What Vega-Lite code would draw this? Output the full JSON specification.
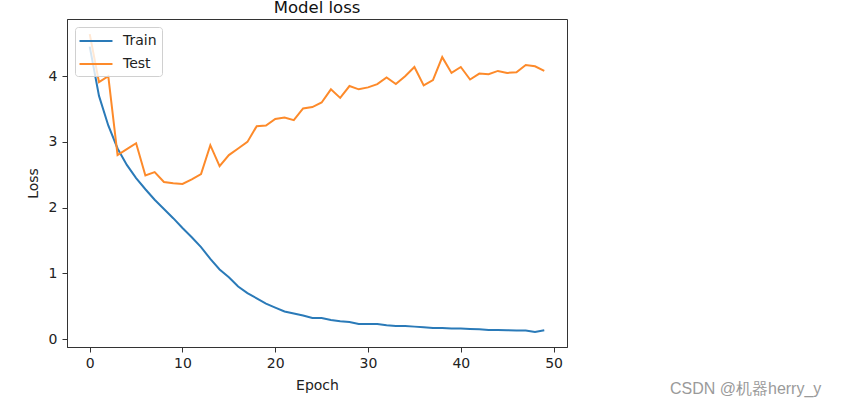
{
  "$schema": "https://vega.github.io/schema/vega-lite/v6.json",
  "width": 500,
  "height": 328,
  "autosize": {"type": "none"},
  "padding": {"left": 67, "top": 19, "right": 287, "bottom": 60},
  "background": "white",
  "title": {"text": "Model loss", "fontSize": 16.5, "font": "DejaVu Sans", "fontWeight": "normal", "color": "#111", "offset": -10, "baseline": "alphabetic", "anchor": "middle"},
  "config": {
    "view": {"stroke": "#333", "strokeWidth": 1},
    "axis": {"labelFont": "DejaVu Sans", "titleFont": "DejaVu Sans", "labelFontSize": 14, "titleFontSize": 14, "titleFontWeight": "normal", "labelColor": "#222", "titleColor": "#222", "domainColor": "#333", "tickColor": "#333", "tickSize": 5, "grid": false},
    "legend": {"labelFont": "DejaVu Sans", "labelFontSize": 14, "labelColor": "#222"}
  },
  "datasets": {
    "loss": [
      {"epoch": 0, "series": "Train", "loss": 4.45}, {"epoch": 1, "series": "Train", "loss": 3.7}, {"epoch": 2, "series": "Train", "loss": 3.25}, {"epoch": 3, "series": "Train", "loss": 2.9}, {"epoch": 4, "series": "Train", "loss": 2.65},
      {"epoch": 5, "series": "Train", "loss": 2.45}, {"epoch": 6, "series": "Train", "loss": 2.28}, {"epoch": 7, "series": "Train", "loss": 2.12}, {"epoch": 8, "series": "Train", "loss": 1.98}, {"epoch": 9, "series": "Train", "loss": 1.84},
      {"epoch": 10, "series": "Train", "loss": 1.69}, {"epoch": 11, "series": "Train", "loss": 1.55}, {"epoch": 12, "series": "Train", "loss": 1.4}, {"epoch": 13, "series": "Train", "loss": 1.22}, {"epoch": 14, "series": "Train", "loss": 1.06},
      {"epoch": 15, "series": "Train", "loss": 0.94}, {"epoch": 16, "series": "Train", "loss": 0.8}, {"epoch": 17, "series": "Train", "loss": 0.7}, {"epoch": 18, "series": "Train", "loss": 0.62}, {"epoch": 19, "series": "Train", "loss": 0.54},
      {"epoch": 20, "series": "Train", "loss": 0.48}, {"epoch": 21, "series": "Train", "loss": 0.42}, {"epoch": 22, "series": "Train", "loss": 0.39}, {"epoch": 23, "series": "Train", "loss": 0.36}, {"epoch": 24, "series": "Train", "loss": 0.32},
      {"epoch": 25, "series": "Train", "loss": 0.32}, {"epoch": 26, "series": "Train", "loss": 0.29}, {"epoch": 27, "series": "Train", "loss": 0.27}, {"epoch": 28, "series": "Train", "loss": 0.26}, {"epoch": 29, "series": "Train", "loss": 0.23},
      {"epoch": 30, "series": "Train", "loss": 0.23}, {"epoch": 31, "series": "Train", "loss": 0.23}, {"epoch": 32, "series": "Train", "loss": 0.21}, {"epoch": 33, "series": "Train", "loss": 0.2}, {"epoch": 34, "series": "Train", "loss": 0.2},
      {"epoch": 35, "series": "Train", "loss": 0.19}, {"epoch": 36, "series": "Train", "loss": 0.18}, {"epoch": 37, "series": "Train", "loss": 0.17}, {"epoch": 38, "series": "Train", "loss": 0.17}, {"epoch": 39, "series": "Train", "loss": 0.16},
      {"epoch": 40, "series": "Train", "loss": 0.16}, {"epoch": 41, "series": "Train", "loss": 0.155}, {"epoch": 42, "series": "Train", "loss": 0.15}, {"epoch": 43, "series": "Train", "loss": 0.14}, {"epoch": 44, "series": "Train", "loss": 0.14},
      {"epoch": 45, "series": "Train", "loss": 0.135}, {"epoch": 46, "series": "Train", "loss": 0.13}, {"epoch": 47, "series": "Train", "loss": 0.13}, {"epoch": 48, "series": "Train", "loss": 0.11}, {"epoch": 49, "series": "Train", "loss": 0.135},
      {"epoch": 0, "series": "Test", "loss": 4.64}, {"epoch": 1, "series": "Test", "loss": 3.91}, {"epoch": 2, "series": "Test", "loss": 4.0}, {"epoch": 3, "series": "Test", "loss": 2.8}, {"epoch": 4, "series": "Test", "loss": 2.89},
      {"epoch": 5, "series": "Test", "loss": 2.98}, {"epoch": 6, "series": "Test", "loss": 2.49}, {"epoch": 7, "series": "Test", "loss": 2.54}, {"epoch": 8, "series": "Test", "loss": 2.39}, {"epoch": 9, "series": "Test", "loss": 2.37},
      {"epoch": 10, "series": "Test", "loss": 2.36}, {"epoch": 11, "series": "Test", "loss": 2.43}, {"epoch": 12, "series": "Test", "loss": 2.51}, {"epoch": 13, "series": "Test", "loss": 2.95}, {"epoch": 14, "series": "Test", "loss": 2.63},
      {"epoch": 15, "series": "Test", "loss": 2.8}, {"epoch": 16, "series": "Test", "loss": 2.9}, {"epoch": 17, "series": "Test", "loss": 3.0}, {"epoch": 18, "series": "Test", "loss": 3.24}, {"epoch": 19, "series": "Test", "loss": 3.25},
      {"epoch": 20, "series": "Test", "loss": 3.35}, {"epoch": 21, "series": "Test", "loss": 3.37}, {"epoch": 22, "series": "Test", "loss": 3.33}, {"epoch": 23, "series": "Test", "loss": 3.51}, {"epoch": 24, "series": "Test", "loss": 3.53},
      {"epoch": 25, "series": "Test", "loss": 3.6}, {"epoch": 26, "series": "Test", "loss": 3.8}, {"epoch": 27, "series": "Test", "loss": 3.67}, {"epoch": 28, "series": "Test", "loss": 3.85}, {"epoch": 29, "series": "Test", "loss": 3.8},
      {"epoch": 30, "series": "Test", "loss": 3.83}, {"epoch": 31, "series": "Test", "loss": 3.88}, {"epoch": 32, "series": "Test", "loss": 3.98}, {"epoch": 33, "series": "Test", "loss": 3.88}, {"epoch": 34, "series": "Test", "loss": 4.0},
      {"epoch": 35, "series": "Test", "loss": 4.14}, {"epoch": 36, "series": "Test", "loss": 3.86}, {"epoch": 37, "series": "Test", "loss": 3.94}, {"epoch": 38, "series": "Test", "loss": 4.29}, {"epoch": 39, "series": "Test", "loss": 4.05},
      {"epoch": 40, "series": "Test", "loss": 4.14}, {"epoch": 41, "series": "Test", "loss": 3.95}, {"epoch": 42, "series": "Test", "loss": 4.04}, {"epoch": 43, "series": "Test", "loss": 4.03}, {"epoch": 44, "series": "Test", "loss": 4.08},
      {"epoch": 45, "series": "Test", "loss": 4.05}, {"epoch": 46, "series": "Test", "loss": 4.06}, {"epoch": 47, "series": "Test", "loss": 4.17}, {"epoch": 48, "series": "Test", "loss": 4.15}, {"epoch": 49, "series": "Test", "loss": 4.08}
    ],
    "note": [{"text": "CSDN @机器herry_y", "epoch": 62.55, "loss": -0.76}]
  },
  "layer": [
    {
      "data": {"name": "loss"},
      "mark": {"type": "line", "strokeWidth": 2, "interpolate": "linear"},
      "encoding": {
        "x": {"field": "epoch", "type": "quantitative", "scale": {"domain": [-2.45, 51.45], "nice": false, "zero": false},
              "axis": {"title": "Epoch", "values": [0, 10, 20, 30, 40, 50], "format": "d", "labelPadding": 4, "titlePadding": 8, "labelFlush": false}},
        "y": {"field": "loss", "type": "quantitative", "scale": {"domain": [-0.12, 4.87], "nice": false, "zero": false},
              "axis": {"title": "Loss", "values": [0, 1, 2, 3, 4], "format": "d", "labelPadding": 5, "titlePadding": 8, "labelFlush": false}},
        "color": {"field": "series", "type": "nominal", "sort": ["Train", "Test"],
                  "scale": {"domain": ["Train", "Test"], "range": ["#2a7ab8", "#fd8a2a"]},
                  "legend": {"title": null, "orient": "top-left", "offset": 8, "symbolType": "M-2.06,0L2.06,0", "symbolSize": 256, "symbolStrokeWidth": 2,
                             "symbolOffset": 7, "fillColor": "rgba(255,255,255,0.8)", "strokeColor": "#d0d0d0", "cornerRadius": 3, "padding": 5, "labelOffset": 18, "rowPadding": 7}},
        "order": {"field": "epoch", "type": "quantitative"}
      }
    },
    {
      "data": {"name": "note"},
      "mark": {"type": "text", "align": "left", "baseline": "middle", "fontSize": 16, "font": "Liberation Sans", "color": "#9a9a9a", "clip": false},
      "encoding": {
        "x": {"field": "epoch", "type": "quantitative"},
        "y": {"field": "loss", "type": "quantitative"},
        "text": {"field": "text"}
      }
    }
  ]
}
